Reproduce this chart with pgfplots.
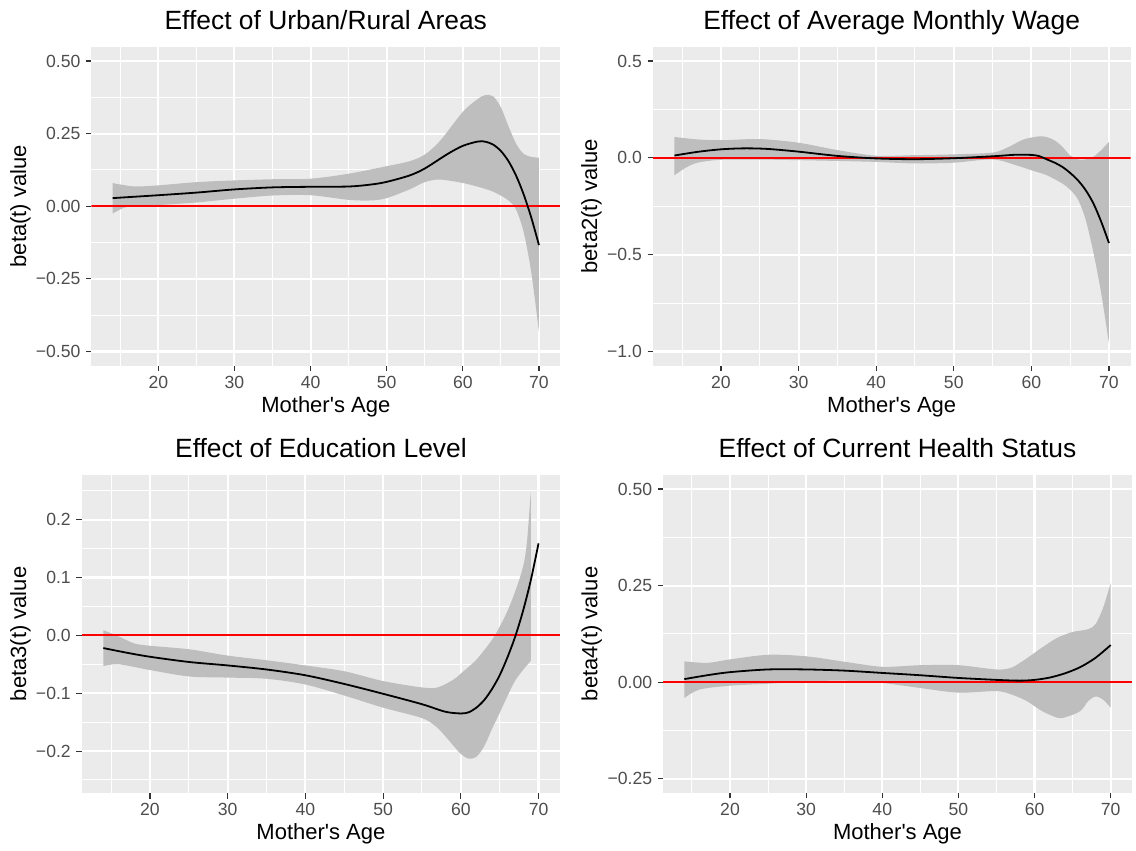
\documentclass[border=0pt]{standalone}
\usepackage{pgfplots}
\pgfplotsset{compat=1.18}
\usepgfplotslibrary{fillbetween}
\usepackage{fontspec}
\setmainfont{Liberation Sans}
\definecolor{panelbg}{HTML}{EBEBEB}
\definecolor{bandc}{HTML}{BEBEBE}
\definecolor{tickc}{HTML}{333333}
\definecolor{labc}{HTML}{4D4D4D}

\pgfplotsset{
  ggpanel/.style={
    scale only axis,
    xmin=11.2, xmax=72.8,
    axis background/.style={fill=panelbg},
    axis line style={draw=none},
    grid=both,
    major grid style={white, line width=1.05pt},
    minor grid style={white, line width=0.5pt},
    xtick={20,30,40,50,60,70},
    minor xtick={15,25,35,45,55,65},
    tick pos=left,
    tick align=outside,
    major tick length=2.6pt,
    minor tick length=0pt,
    every tick/.style={tickc, line width=0.55pt},
    /pgf/number format/assume math mode=true,
    tick label style={font=\fontsize{8.8}{10}\selectfont, text=labc},
    xticklabel style={anchor=base, yshift=-8.5pt},
    yticklabel style={anchor=east, xshift=0.7pt},
    xlabel={Mother\textquotesingle s Age},
    xlabel style={font=\fontsize{11}{13}\selectfont, at={(axis description cs:0.5,0)}, anchor=base, yshift=-23.2pt},
    ylabel style={font=\fontsize{11}{13}\selectfont, anchor=base},
    every axis title/.style={font=\fontsize{13.2}{15}\selectfont, at={(axis description cs:0.5,1)}, anchor=base, yshift=8.6pt},
    clip=true,
  },
  bandline/.style={draw=none, smooth, tension=0.5},
  fitline/.style={black, line width=0.9pt, smooth, tension=0.5},
  zeroline/.style={red, line width=1pt},
}

\begin{document}
\begin{tikzpicture}
\path (0,0) rectangle (568pt,-425.5pt);

% ---------------- Urban/Rural ----------------
\begin{axis}[ggpanel, at={(45.65pt,-23.25pt)}, anchor=north west,
  width=234.5pt, height=159.75pt,
  ymin=-0.55, ymax=0.55,
  ytick={-0.5,-0.25,0,0.25,0.5},
  yticklabels={−0.50,−0.25,0.00,0.25,0.50},
  minor ytick={-0.375,-0.125,0.125,0.375},
  title={Effect of Urban/Rural Areas},
  ylabel={beta(t) value},
  ylabel style={at={(axis description cs:-0.139,0.5)}}]
\addplot[bandline, name path=U] table {
14 0.080
15 0.075
17 0.068
20 0.072
25 0.083
30 0.089
35 0.093
40 0.095
45 0.112
50 0.138
53 0.155
55 0.178
57 0.225
60 0.325
62 0.370
63 0.383
64 0.378
65 0.340
66 0.275
67 0.215
68 0.180
69 0.170
70 0.167
};
\addplot[bandline, name path=L] table {
14 -0.025
15.5 -0.005
17 0.002
20 0.004
25 0.013
30 0.026
35 0.037
40 0.038
45 0.022
48 0.020
50 0.028
53 0.058
55 0.083
57 0.092
60 0.080
62 0.067
64 0.050
66 0.020
67 -0.012
68 -0.090
69 -0.230
70 -0.433
};
\addplot[bandc, draw=none] fill between[of=U and L];
\addplot[zeroline] coordinates {(11.2,0) (72.8,0)};
\addplot[fitline] table {
14 0.028
17 0.033
20 0.038
25 0.047
30 0.058
35 0.065
40 0.067
45 0.068
48 0.075
50 0.084
53 0.106
55 0.130
58 0.180
60 0.208
62 0.223
63 0.222
64 0.212
65 0.190
66 0.155
67 0.105
68 0.040
69 -0.040
70 -0.134
};
\end{axis}

% ---------------- Average Monthly Wage ----------------
\begin{axis}[ggpanel, at={(326.35pt,-23.25pt)}, anchor=north west,
  width=239pt, height=159.75pt,
  ymin=-1.075, ymax=0.575,
  ytick={-1,-0.5,0,0.5},
  yticklabels={−1.0,−0.5,0.0,0.5},
  minor ytick={-0.75,-0.25,0.25},
  title={Effect of Average Monthly Wage},
  ylabel={beta2(t) value},
  ylabel style={at={(axis description cs:-0.1165,0.5)}}]
\addplot[bandline, name path=U] table {
14 0.108
17 0.095
20 0.091
25 0.097
30 0.078
35 0.040
40 0.011
45 0.014
50 0.018
55 0.027
57 0.055
59 0.095
61 0.111
62 0.107
63 0.090
64 0.057
65 0.012
66 -0.008
67 -0.008
68 0.006
69 0.040
70 0.083
};
\addplot[bandline, name path=L] table {
14 -0.090
15.5 -0.050
17 -0.025
20 -0.010
25 -0.009
30 -0.012
35 -0.016
40 -0.021
45 -0.029
50 -0.025
55 -0.008
58 -0.038
60 -0.064
62 -0.090
64 -0.133
65 -0.165
66 -0.215
67 -0.320
68 -0.490
69 -0.700
70 -0.960
};
\addplot[bandc, draw=none] fill between[of=U and L];
\addplot[zeroline] coordinates {(11.2,0) (72.8,0)};
\addplot[fitline] table {
14 0.012
17 0.031
20 0.044
23 0.049
26 0.046
30 0.032
35 0.010
40 -0.003
45 -0.007
50 -0.002
55 0.008
58 0.016
60 0.015
61 0.009
62 -0.008
63 -0.025
64 -0.047
65 -0.078
66 -0.116
67 -0.167
68 -0.236
69 -0.330
70 -0.440
};
\end{axis}

% ---------------- Education Level ----------------
\begin{axis}[ggpanel, at={(40.8pt,-237.25pt)}, anchor=north west,
  width=239.35pt, height=159.4pt,
  ymin=-0.273, ymax=0.278,
  ytick={-0.2,-0.1,0,0.1,0.2},
  yticklabels={−0.2,−0.1,0.0,0.1,0.2},
  minor ytick={-0.25,-0.15,-0.05,0.05,0.15,0.25},
  title={Effect of Education Level},
  ylabel={beta3(t) value},
  ylabel style={at={(axis description cs:-0.116,0.5)}}]
\addplot[bandline, name path=U] table {
14 0.009
16 -0.002
18 -0.014
20 -0.018
25 -0.024
30 -0.035
35 -0.043
40 -0.052
45 -0.062
50 -0.079
55 -0.090
57 -0.090
59 -0.077
60 -0.066
62 -0.042
64 -0.008
65 0.015
66 0.042
67 0.076
68 0.118
68.5 0.160
69 0.247
};
\addplot[bandline, name path=L] table {
14 -0.053
16 -0.050
20 -0.060
25 -0.071
30 -0.073
35 -0.075
40 -0.085
45 -0.104
50 -0.125
55 -0.143
57 -0.160
59 -0.190
60 -0.205
61 -0.213
62 -0.210
63 -0.192
64 -0.162
65 -0.134
66 -0.105
67 -0.078
68 -0.060
69 -0.044
};
\addplot[bandc, draw=none] fill between[of=U and L];
\addplot[zeroline] coordinates {(11.2,0) (72.8,0)};
\addplot[fitline] table {
14 -0.022
17 -0.030
20 -0.037
25 -0.046
30 -0.052
35 -0.059
40 -0.069
45 -0.084
50 -0.101
55 -0.119
58 -0.132
60 -0.135
61 -0.133
62 -0.125
63 -0.112
64 -0.093
65 -0.069
66 -0.038
67 -0.002
68 0.042
69 0.095
70 0.159
};
\end{axis}

% ---------------- Current Health Status ----------------
\begin{axis}[ggpanel, at={(331.5pt,-237.25pt)}, anchor=north west,
  width=234.5pt, height=159.4pt,
  ymin=-0.2875, ymax=0.5375,
  ytick={-0.25,0,0.25,0.5},
  yticklabels={−0.25,0.00,0.25,0.50},
  minor ytick={-0.125,0.125,0.375},
  title={Effect of Current Health Status},
  ylabel={beta4(t) value},
  ylabel style={at={(axis description cs:-0.1397,0.5)}}]
\addplot[bandline, name path=U] table {
14 0.054
17 0.050
20 0.059
25 0.071
30 0.067
35 0.053
40 0.040
45 0.044
50 0.044
55 0.033
57 0.038
59 0.062
61 0.090
63 0.115
65 0.130
67 0.137
68 0.150
69 0.192
70 0.257
};
\addplot[bandline, name path=L] table {
14 -0.041
16 -0.019
20 -0.009
25 -0.004
30 0.002
35 0.004
40 -0.002
45 -0.015
50 -0.027
55 -0.023
57 -0.032
59 -0.049
61 -0.075
63 -0.092
64 -0.091
66 -0.075
67 -0.050
68 -0.037
69 -0.045
70 -0.066
};
\addplot[bandc, draw=none] fill between[of=U and L];
\addplot[zeroline] coordinates {(11.2,0) (72.8,0)};
\addplot[fitline] table {
14 0.008
17 0.018
20 0.026
25 0.033
30 0.033
35 0.030
40 0.024
45 0.018
50 0.011
55 0.006
58 0.004
60 0.006
62 0.012
64 0.023
66 0.039
68 0.063
70 0.096
};
\end{axis}
\end{tikzpicture}
\end{document}
